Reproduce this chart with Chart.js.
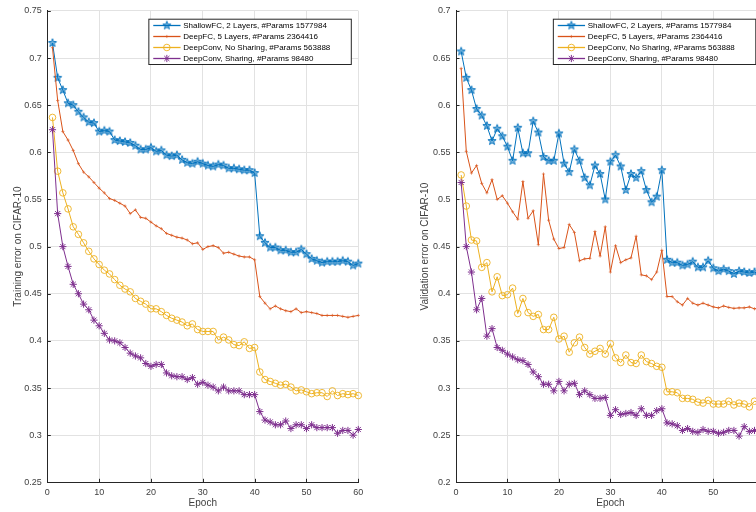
<!DOCTYPE html>
<html>
<head>
<meta charset="utf-8">
<script src="https://cdn.jsdelivr.net/npm/chart.js@4.4.1/dist/chart.umd.min.js"></script>
<style>
  html, body { margin: 0; padding: 0; background: #fff; }
  body { width: 756px; height: 512px; overflow: hidden; position: relative; }
  canvas { position: absolute; top: 0; }
</style>
</head>
<body>
<canvas id="chartTrain" width="380" height="512" style="left:0"></canvas>
<canvas id="chartVal" width="400" height="512" style="left:390px"></canvas>
<script>
// epochs 1..60
var epochs = [];
for (var i = 1; i <= 60; i++) epochs.push(i);

var seriesLabels = [
    'ShallowFC, 2 Layers, #Params 1577984',
    'DeepFC, 5 Layers, #Params 2364416',
    'DeepConv, No Sharing, #Params 563888',
    'DeepConv, Sharing, #Params 98480'
];

// training error
var trainShallowFC = [0.716, 0.679, 0.666, 0.652, 0.650, 0.643, 0.637, 0.632, 0.631, 0.622,
    0.623, 0.622, 0.613, 0.612, 0.611, 0.610, 0.607, 0.603, 0.603, 0.605,
    0.601, 0.602, 0.597, 0.596, 0.597, 0.592, 0.589, 0.588, 0.590, 0.588,
    0.586, 0.585, 0.587, 0.586, 0.583, 0.583, 0.582, 0.581, 0.581, 0.578,
    0.511, 0.504, 0.499, 0.499, 0.496, 0.496, 0.494, 0.494, 0.497, 0.492,
    0.487, 0.485, 0.483, 0.484, 0.484, 0.484, 0.485, 0.484, 0.480, 0.482];
var trainDeepFC = [0.711, 0.655, 0.622, 0.613, 0.602, 0.588, 0.579, 0.574, 0.568, 0.562,
    0.557, 0.551, 0.549, 0.546, 0.543, 0.535, 0.539, 0.531, 0.530, 0.526,
    0.522, 0.519, 0.514, 0.512, 0.510, 0.509, 0.507, 0.503, 0.504, 0.497,
    0.500, 0.501, 0.499, 0.493, 0.494, 0.492, 0.490, 0.489, 0.489, 0.486,
    0.447, 0.440, 0.434, 0.437, 0.434, 0.432, 0.431, 0.434, 0.430, 0.431,
    0.430, 0.429, 0.427, 0.427, 0.427, 0.427, 0.426, 0.425, 0.426, 0.427];
var trainConvNoShare = [0.637, 0.580, 0.557, 0.540, 0.521, 0.513, 0.504, 0.495, 0.487, 0.481,
    0.475, 0.471, 0.465, 0.459, 0.455, 0.452, 0.445, 0.442, 0.439, 0.434,
    0.434, 0.431, 0.427, 0.424, 0.422, 0.420, 0.416, 0.418, 0.412, 0.410,
    0.410, 0.410, 0.401, 0.404, 0.401, 0.396, 0.395, 0.399, 0.392, 0.393,
    0.367, 0.359, 0.357, 0.355, 0.353, 0.354, 0.351, 0.347, 0.348, 0.346,
    0.344, 0.345, 0.345, 0.341, 0.347, 0.342, 0.344, 0.343, 0.344, 0.342];
var trainConvShare = [0.624, 0.535, 0.500, 0.479, 0.460, 0.450, 0.439, 0.433, 0.422, 0.416,
    0.408, 0.401, 0.400, 0.398, 0.393, 0.387, 0.384, 0.382, 0.376, 0.373,
    0.375, 0.375, 0.366, 0.363, 0.362, 0.362, 0.359, 0.361, 0.354, 0.356,
    0.353, 0.351, 0.347, 0.351, 0.347, 0.347, 0.347, 0.343, 0.343, 0.343,
    0.325, 0.316, 0.314, 0.311, 0.311, 0.315, 0.307, 0.311, 0.311, 0.307,
    0.311, 0.308, 0.308, 0.308, 0.308, 0.302, 0.305, 0.305, 0.300, 0.306];

// validation error
var valShallowFC = [0.657, 0.629, 0.616, 0.596, 0.589, 0.578, 0.562, 0.575, 0.567, 0.556,
    0.541, 0.576, 0.549, 0.549, 0.583, 0.571, 0.545, 0.541, 0.541, 0.570,
    0.538, 0.529, 0.553, 0.541, 0.523, 0.515, 0.536, 0.527, 0.500, 0.540,
    0.547, 0.535, 0.510, 0.527, 0.523, 0.530, 0.510, 0.497, 0.503, 0.531,
    0.436, 0.433, 0.433, 0.430, 0.431, 0.434, 0.428, 0.428, 0.435, 0.427,
    0.424, 0.426, 0.424, 0.421, 0.424, 0.423, 0.422, 0.423, 0.421, 0.422];
var valDeepFC = [0.639, 0.551, 0.528, 0.536, 0.517, 0.507, 0.521, 0.500, 0.504, 0.496,
    0.487, 0.479, 0.519, 0.480, 0.488, 0.452, 0.527, 0.478, 0.458, 0.448,
    0.449, 0.4735, 0.465, 0.435, 0.437, 0.4375, 0.466, 0.440, 0.471, 0.423,
    0.451, 0.433, 0.436, 0.438, 0.461, 0.420, 0.419, 0.415, 0.423, 0.446,
    0.397, 0.397, 0.3915, 0.388, 0.395, 0.390, 0.388, 0.390, 0.388, 0.386,
    0.385, 0.387, 0.3855, 0.3845, 0.385, 0.385, 0.386, 0.384, 0.385, 0.384];
var valConvNoShare = [0.526, 0.493, 0.457, 0.456, 0.428, 0.433, 0.402, 0.418, 0.398, 0.399,
    0.406, 0.379, 0.395, 0.380, 0.376, 0.378, 0.362, 0.362, 0.375, 0.352,
    0.355, 0.338, 0.348, 0.354, 0.343, 0.336, 0.339, 0.342, 0.336, 0.347,
    0.332, 0.327, 0.335, 0.327, 0.326, 0.335, 0.328, 0.326, 0.323, 0.322,
    0.296, 0.296, 0.295, 0.289, 0.289, 0.288, 0.285, 0.284, 0.287, 0.283,
    0.283, 0.283, 0.286, 0.282, 0.284, 0.283, 0.280, 0.286, 0.284, 0.283];
var valConvShare = [0.518, 0.450, 0.423, 0.383, 0.395, 0.355, 0.363, 0.343, 0.340, 0.336,
    0.333, 0.330, 0.329, 0.325, 0.317, 0.312, 0.304, 0.304, 0.297, 0.307,
    0.297, 0.304, 0.305, 0.293, 0.297, 0.293, 0.289, 0.289, 0.290, 0.271,
    0.277, 0.272, 0.273, 0.274, 0.271, 0.278, 0.271, 0.271, 0.276, 0.278,
    0.263, 0.262, 0.260, 0.255, 0.257, 0.254, 0.253, 0.256, 0.254, 0.254,
    0.252, 0.253, 0.255, 0.255, 0.249, 0.259, 0.254, 0.255, 0.253, 0.254];

var xTicks = [0, 10, 20, 30, 40, 50, 60];

var colors = ['#0072BD', '#D95319', '#EDB120', '#7E2F8E'];
var axisColor = '#262626';
var labelColor = '#404040';
var gridColor = '#e2e2e2';
var fontFamily = '"Liberation Sans", Arial, Helvetica, sans-serif';

Chart.defaults.font.family = fontFamily;

// matlab style pentagram marker
function makePentagram(color, r) {
    var c = document.createElement('canvas');
    var s = Math.ceil(r * 2 + 3);
    c.width = s;
    c.height = s;
    var g = c.getContext('2d');
    g.beginPath();
    for (var k = 0; k < 10; k++) {
        var rad = k % 2 ? r * 0.42 : r;
        var a = -Math.PI / 2 + k * Math.PI / 5;
        g.lineTo(s / 2 + rad * Math.cos(a), s / 2 + rad * Math.sin(a));
    }
    g.closePath();
    g.globalAlpha = 0.55;
    g.fillStyle = color;
    g.fill();
    g.globalAlpha = 1;
    g.strokeStyle = color;
    g.lineWidth = 0.9;
    g.stroke();
    return c;
}
var starImg = makePentagram(colors[0], 4.3);

function toPoints(vals) {
    return vals.map(function (v, i) { return { x: epochs[i], y: v }; });
}

function makeDatasets(a, b, c, d) {
    return [{
        label: seriesLabels[0], data: toPoints(a), order: 4,
        borderColor: colors[0], backgroundColor: colors[0], borderWidth: 1,
        pointStyle: starImg, pointRadius: 4, pointBorderWidth: 0.9,
        pointBackgroundColor: colors[0]
    }, {
        label: seriesLabels[1], data: toPoints(b), order: 3,
        borderColor: colors[1], backgroundColor: colors[1], borderWidth: 1,
        pointStyle: 'cross', pointRadius: 1.6, pointBorderWidth: 0.6,
        pointBackgroundColor: colors[1]
    }, {
        label: seriesLabels[2], data: toPoints(c), order: 2,
        borderColor: colors[2], backgroundColor: 'rgba(0,0,0,0)', borderWidth: 1,
        pointStyle: 'circle', pointRadius: 3.3, pointBorderWidth: 0.9,
        pointBackgroundColor: 'rgba(0,0,0,0)'
    }, {
        label: seriesLabels[3], data: toPoints(d), order: 1,
        borderColor: colors[3], backgroundColor: colors[3], borderWidth: 1,
        pointStyle: 'star', pointRadius: 3.6, pointBorderWidth: 1,
        pointBackgroundColor: colors[3]
    }];
}

// legend box inside the axes, top right
var boxLegend = {
    id: 'boxLegend',
    afterDraw: function (chart, args, opts) {
        var ctx = chart.ctx, area = chart.chartArea;
        var sets = chart.data.datasets;
        ctx.save();
        ctx.font = '8px ' + fontFamily;
        var maxW = 0;
        sets.forEach(function (ds) { maxW = Math.max(maxW, ctx.measureText(ds.label).width); });
        var w = 34.4 + maxW + 21, h = 45.3;
        var x0 = area.right - opts.inset - w, y0 = area.top + 8.3;
        ctx.fillStyle = '#fff';
        ctx.fillRect(x0, y0, w, h);
        ctx.strokeStyle = axisColor;
        ctx.lineWidth = 1;
        ctx.strokeRect(x0, y0, w, h);
        sets.forEach(function (ds, i) {
            var y = y0 + 6.3 + i * 11;
            ctx.strokeStyle = ds.borderColor;
            ctx.lineWidth = 1.3;
            ctx.beginPath();
            ctx.moveTo(x0 + 4.4, y);
            ctx.lineTo(x0 + 31.7, y);
            ctx.stroke();
            ctx.fillStyle = ds.pointBackgroundColor;
            ctx.lineWidth = ds.pointBorderWidth;
            Chart.helpers.drawPoint(ctx, {
                pointStyle: ds.pointStyle, radius: ds.pointRadius,
                borderWidth: ds.pointBorderWidth, rotation: 0
            }, x0 + 18, y);
            ctx.fillStyle = '#000';
            ctx.textBaseline = 'middle';
            ctx.textAlign = 'left';
            ctx.fillText(ds.label, x0 + 34.4, y + 0.5);
        });
        ctx.restore();
    }
};

// tick marks pointing into the axes
var inTicks = {
    id: 'inTicks',
    afterDatasetsDraw: function (chart) {
        var ctx = chart.ctx, a = chart.chartArea;
        var xs = chart.scales.x, ys = chart.scales.y;
        ctx.save();
        ctx.strokeStyle = axisColor;
        ctx.lineWidth = 1;
        ctx.beginPath();
        xs.ticks.forEach(function (t) {
            var px = Math.round(xs.getPixelForValue(t.value)) + 0.5;
            ctx.moveTo(px, a.bottom);
            ctx.lineTo(px, a.bottom - 3.5);
        });
        ys.ticks.forEach(function (t) {
            var py = Math.round(ys.getPixelForValue(t.value)) + 0.5;
            ctx.moveTo(a.left, py);
            ctx.lineTo(a.left + 3.5, py);
        });
        ctx.stroke();
        ctx.restore();
    }
};

function makeChart(id, datasets, yMin, yMax, yTitle, opt) {
    return new Chart(document.getElementById(id), {
        type: 'line',
        data: { datasets: datasets },
        plugins: [inTicks, boxLegend],
        options: {
            responsive: false,
            animation: false,
            devicePixelRatio: 1,
            events: [],
            layout: { padding: { top: 10.7, right: opt.padRight, left: 0, bottom: 0 } },
            elements: { line: { tension: 0 } },
            datasets: { line: { clip: false } },
            plugins: {
                legend: { display: false },
                tooltip: { enabled: false },
                boxLegend: { inset: opt.legendInset }
            },
            scales: {
                x: {
                    type: 'linear', min: 0, max: 60,
                    afterBuildTicks: function (s) { s.ticks = xTicks.map(function (v) { return { value: v }; }); },
                    ticks: { autoSkip: false, maxRotation: 0, padding: 4.5, color: labelColor, font: { size: 9 } },
                    grid: { color: gridColor, drawTicks: false },
                    border: { color: axisColor, width: 1 },
                    title: { display: true, text: 'Epoch', color: labelColor, font: { size: 10 }, padding: { top: 0, bottom: 2.5 } },
                    afterFit: function (s) { s.height = 29.7; }
                },
                y: {
                    min: yMin, max: yMax,
                    ticks: {
                        stepSize: 0.05, autoSkip: false, padding: 5.5, color: labelColor, font: { size: 9 },
                        callback: function (v) { return String(+v.toFixed(2)); }
                    },
                    grid: { color: gridColor, drawTicks: false },
                    border: { color: axisColor, width: 1 },
                    title: { display: true, text: yTitle, color: labelColor, font: { size: 10 }, padding: { top: opt.titlePad, bottom: 0 } },
                    afterFit: function (s) { s.width = opt.axisWidth; }
                }
            }
        }
    });
}

var chartTrain = makeChart('chartTrain',
    makeDatasets(trainShallowFC, trainDeepFC, trainConvNoShare, trainConvShare),
    0.25, 0.75, 'Training error on CIFAR-10',
    { padRight: 21.7, axisWidth: 47.3, titlePad: 12, legendInset: 7 });

var chartVal = makeChart('chartVal',
    makeDatasets(valShallowFC, valDeepFC, valConvNoShare, valConvShare),
    0.2, 0.7, 'Validation error on CIFAR-10',
    { padRight: 25.2, axisWidth: 66, titlePad: 29, legendInset: 9 });
</script>
</body>
</html>
